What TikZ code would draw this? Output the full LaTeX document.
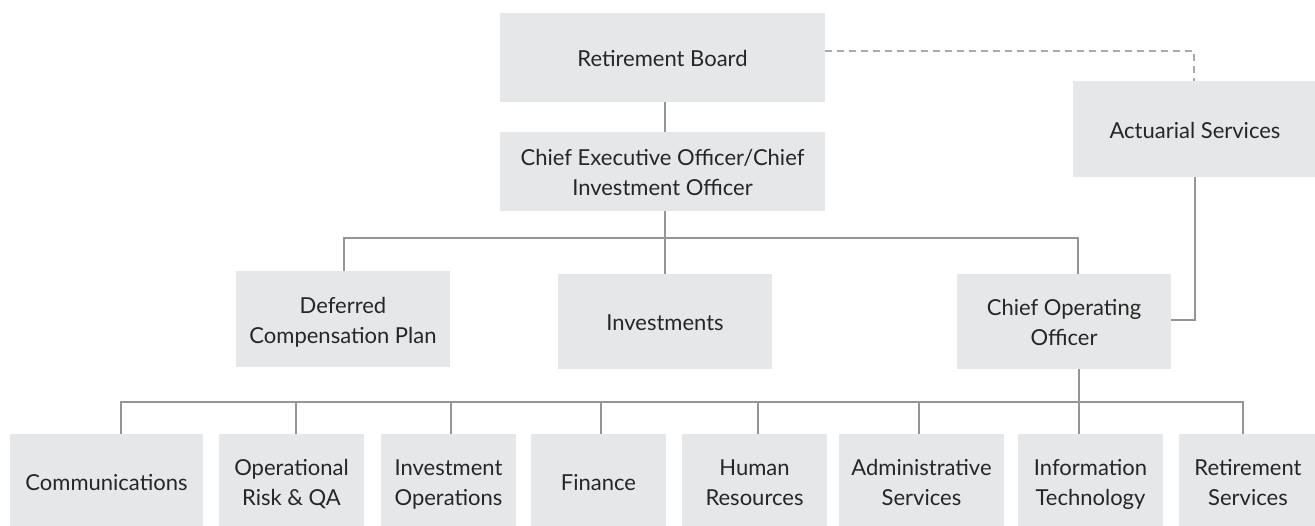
\documentclass[tikz,border=0pt]{standalone}
\usepackage{fontspec}
\setmainfont{Lato}
\definecolor{boxfill}{HTML}{E6E7E8}
\definecolor{linec}{HTML}{939598}
\definecolor{dashc}{HTML}{A7A9AC}
\definecolor{txt}{HTML}{262626}
\newcommand\ls{\rule[-5pt]{0pt}{28.8pt}}
\begin{document}
\begin{tikzpicture}[x=1pt,y=-1pt,
  box/.style={fill=boxfill,draw=none,inner sep=0pt,align=center,text=txt,
    font=\fontsize{22}{30}\selectfont},
  conn/.style={draw=linec,line width=1.8pt},
  dconn/.style={draw=dashc,line width=2.2pt,dash pattern=on 7pt off 5pt}]
\useasboundingbox (0,0) rectangle (1315,525);
% boxes: centre x, centre y, width, height
\node[box,minimum width=325,minimum height=89] (board) at (662.5,57.5) {\ls Retirement Board};
\node[box,minimum width=325,minimum height=79] (ceo) at (662.5,171.5) {\ls Chief Executive Officer/Chief\\\ls Investment Officer};
\node[box,minimum width=244,minimum height=96] (act) at (1195,129) {\ls Actuarial Services};
\node[box,minimum width=214,minimum height=96] (dcp) at (343,319) {\ls Deferred\\\ls Compensation Plan};
\node[box,minimum width=214,minimum height=95] (inv) at (665,321.5) {\ls Investments};
\node[box,minimum width=214,minimum height=95] (coo) at (1064,321.5) {\ls Chief Operating\\\ls Officer};
\node[box,minimum width=193,minimum height=95] (comm) at (106.5,481.5) {\ls Communications};
\node[box,minimum width=145,minimum height=95] (opr) at (291.5,481.5) {\ls Operational\\\ls Risk \& QA};
\node[box,minimum width=135,minimum height=95] (invops) at (448.5,481.5) {\ls Investment\\\ls Operations};
\node[box,minimum width=135,minimum height=95] (fin) at (598.5,481.5) {\ls Finance};
\node[box,minimum width=145,minimum height=95] (hr) at (754.5,481.5) {\ls Human\\\ls Resources};
\node[box,minimum width=165,minimum height=95] (adm) at (921.5,481.5) {\ls Administrative\\\ls Services};
\node[box,minimum width=145,minimum height=95] (it) at (1090.5,481.5) {\ls Information\\\ls Technology};
\node[box,minimum width=138,minimum height=95] (rs) at (1248,481.5) {\ls Retirement\\\ls Services};
% connector coordinates
\coordinate (t0) at (665,238);
\coordinate (t1) at (344,238);
\coordinate (t3) at (1078,238);
\coordinate (b1) at (121,402);
\coordinate (b2) at (296,402);
\coordinate (b3) at (451,402);
\coordinate (b4) at (601,402);
\coordinate (b5) at (758,402);
\coordinate (b6) at (919,402);
\coordinate (b7) at (1079,402);
\coordinate (b8) at (1243,402);
\coordinate (ab) at (1195,320);
\coordinate (dtop) at (1194,51);
% connectors
\draw[conn] (t0 |- board.south) -- (t0 |- ceo.north);
\draw[conn] (t0 |- ceo.south) -- (t0 |- inv.north);
\draw[conn] (t1 |- dcp.north) -- (t1) -- (t3) -- (t3 |- coo.north);
\draw[conn] (b7 |- coo.south) -- (b7 |- it.north);
\draw[conn] (b1 |- comm.north) -- (b1) -- (b8) -- (b8 |- rs.north);
\draw[conn] (b2) -- (b2 |- opr.north);
\draw[conn] (b3) -- (b3 |- invops.north);
\draw[conn] (b4) -- (b4 |- fin.north);
\draw[conn] (b5) -- (b5 |- hr.north);
\draw[conn] (b6) -- (b6 |- adm.north);
\draw[conn] (ab |- act.south) -- (ab) -- (ab -| coo.east);
\draw[dconn] (board.east |- dtop) -- (dtop) -- (dtop |- act.north);
\end{tikzpicture}
\end{document}
